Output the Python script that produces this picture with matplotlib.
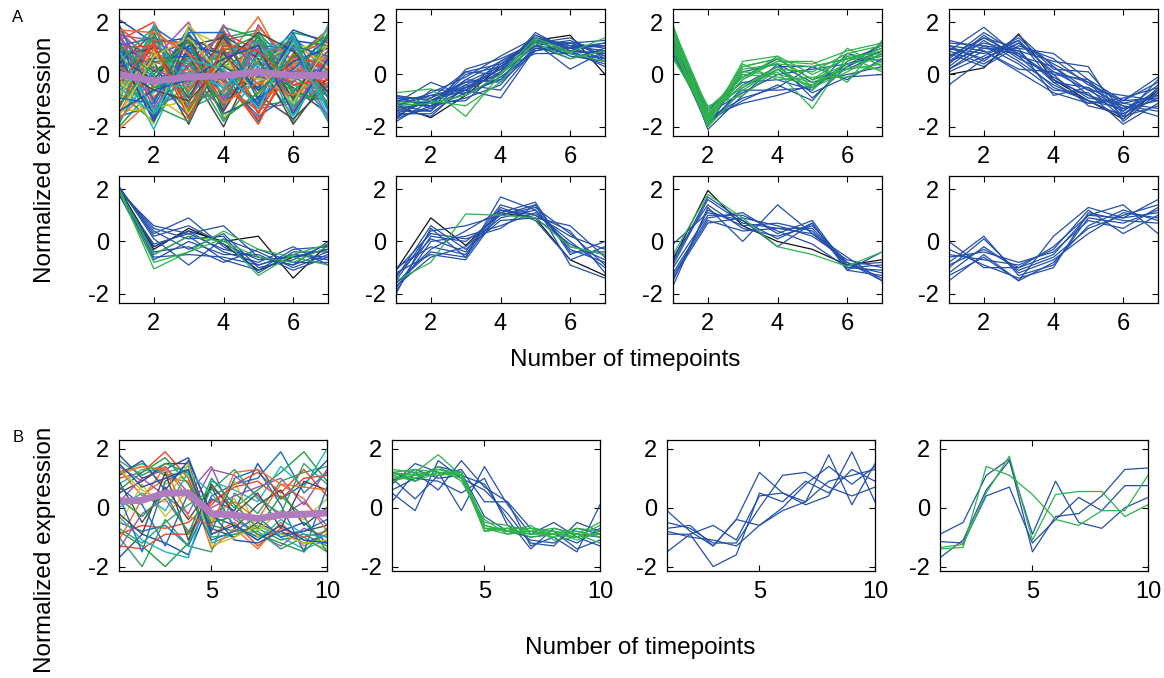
import matplotlib
matplotlib.use('Agg')
import matplotlib.pyplot as plt

plt.rcParams['font.family'] = ['Liberation Sans', 'DejaVu Sans']
plt.rcParams['axes.unicode_minus'] = False

# colours
BLUE = '#2350aa'
GREEN = '#2db34a'
BLACK = '#111111'
MEAN = '#b07cc0'
palette = ['#2350aa', '#1f9e48', '#ef4422', '#1bb5c2', '#9a55b5', '#c9c12a', '#4a4a4a',
           '#f26b2a', '#1a6fc0', '#33a06b']

x7 = [1, 2, 3, 4, 5, 6, 7]
x10 = [1, 2, 3, 4, 5, 6, 7, 8, 9, 10]

# ---- A, panel 1: all genes ----
a1_lines = [
    [2.1, 1.2, 1.4, 0.8, 1.1, 0.6, 1.7],
    [-2.0, -0.5, 0.3, 1.2, 0.9, -0.4, -0.8],
    [1.3, 2.0, -0.5, 0.2, -1.1, 0.7, 0.4],
    [0.5, -2.1, 0.8, -0.3, 1.5, -0.6, 0.2],
    [-1.2, 0.6, 2.0, -1.0, 0.3, 1.1, -0.5],
    [0.9, -0.8, -1.7, 1.6, -0.2, 0.4, 1.0],
    [-0.4, 1.1, 0.2, -2.0, 0.8, -1.3, 0.6],
    [1.7, 0.3, -0.6, 0.5, 2.2, -0.2, -1.1],
    [-1.6, -1.2, 1.0, 0.9, -1.5, 1.4, 0.3],
    [0.2, 0.9, -1.3, -0.7, 1.2, -1.8, 0.9],
    [1.1, -0.3, 0.6, 1.5, -0.9, 0.1, -1.6],
    [-0.9, 1.5, -0.2, 0.4, -0.6, 1.6, 1.3],
    [0.7, -1.5, 1.4, -1.2, 0.5, -0.9, -0.2],
    [-1.8, 0.2, -0.9, 0.7, 1.3, 0.9, -1.3],
    [1.5, 1.3, 0.5, -0.5, -1.3, -1.1, 0.8],
    [-0.2, -1.0, 1.7, 1.1, 0.0, -1.5, 1.5],
    [0.3, 0.5, -1.9, 0.9, -0.4, 1.2, -0.7],
    [1.9, -0.6, 0.1, -1.4, 0.6, 0.3, 1.1],
    [-1.3, 1.8, 0.9, 0.1, -1.8, 0.5, 0.0],
    [0.0, -1.4, -0.4, 1.4, 1.7, -0.8, -1.0],
    [1.2, 0.8, 1.2, -0.9, -0.1, 1.5, -1.4],
    [-0.7, -1.8, 0.4, 0.3, 1.0, -0.3, 1.8],
    [0.8, 1.0, -1.1, 1.7, -1.0, 0.0, 0.5],
    [-1.5, -0.2, 1.6, -0.6, 0.4, 1.0, -0.9],
    [1.6, -1.1, -0.8, 0.6, 1.4, -1.4, 0.7],
    [-1.0, 0.4, 0.7, -1.6, -0.7, 0.8, 1.4],
    [0.4, 1.6, -1.5, 0.0, 0.2, -0.5, -1.5],
    [-2.1, -0.9, 0.0, 1.0, 0.7, 1.3, 0.1],
    [1.0, -0.4, 1.8, -0.2, -1.6, -0.7, 0.9],
    [-0.5, 1.4, -0.7, 1.3, 1.6, 0.2, -0.6],
    [0.6, -1.7, 0.9, -1.1, 0.1, 1.7, 1.2],
    [-1.1, 0.0, -1.4, 0.8, -1.2, -1.0, 1.6],
    [1.8, 0.7, 0.3, 1.6, 0.9, -1.2, -0.3],
    [-0.3, -0.7, 1.3, -0.8, -0.3, 0.6, -1.8],
    [0.1, 1.2, -0.1, -1.3, 1.9, 0.1, 0.4],
    [-1.4, -1.3, -1.0, 0.2, 0.5, 1.1, 1.0],
    [1.4, 0.1, 1.1, 1.4, -0.8, -1.7, -0.4],
    [-0.8, 1.7, 0.6, -0.4, -1.4, 0.4, 0.6],
    [0.9, -0.1, -1.6, 0.6, 1.1, 1.0, -1.2],
    [-1.9, 0.8, 0.4, -1.8, 0.0, -0.6, 0.2],
    [1.3, -1.6, 1.5, 0.3, -0.5, 1.3, 1.1],
    [-0.6, 0.3, -0.3, 1.8, 1.4, -0.1, -0.8],
    [0.4, -0.9, 0.8, -0.1, -1.9, 0.7, 1.3],
    [-1.0, 1.9, -1.2, 0.5, 0.3, -1.6, 0.5],
    [1.6, 0.5, 0.0, -0.9, 1.0, 0.9, -1.7],
    [-0.2, -1.9, 1.9, 0.4, -0.2, -0.2, 0.8],
    [0.7, 1.0, -0.9, 1.5, 0.6, -1.9, -0.1],
    [-1.7, -0.4, 0.2, -0.7, 1.8, 0.5, 1.7],
    [1.1, 1.4, 1.0, 0.0, -1.1, 1.6, -0.9],
    [-0.4, -1.2, -1.8, 1.2, 0.4, -0.4, 0.0],
    [0.3, 0.6, 0.7, -1.5, -0.9, 1.4, -1.3],
    [1.2, -0.5, -0.2, 0.9, 1.5, -1.0, 1.5],
    [-1.3, 1.3, 1.2, -0.3, -1.7, 0.3, -0.5],
    [0.0, -0.3, -0.5, 1.1, 0.8, -1.3, 1.9],
    [1.5, -1.3, 0.4, -1.0, 1.2, 0.0, -0.6],
    [-0.8, 0.9, -1.5, 0.7, -0.8, 1.2, 0.3],
    [0.6, -0.2, 1.5, -1.4, 0.9, -0.9, 1.2],
    [-1.5, 1.0, -0.6, 1.3, -0.4, 0.6, -1.1],
    [1.9, -1.0, 0.9, 0.1, -1.2, 1.1, 0.7],
    [-0.1, 1.5, -1.1, -0.6, 1.3, -1.2, -0.4],
    [0.8, -1.8, 1.1, 0.8, -0.6, 0.5, 1.0],
    [-1.2, 0.5, 0.5, -1.2, 1.5, -0.7, -1.0],
    [1.0, 1.1, -1.3, 1.0, -1.5, 0.8, 0.2],
    [-0.5, -1.5, 0.1, -0.5, 0.7, 1.5, -1.4],
    [1.4, 0.2, -0.4, 1.9, -0.1, -0.3, 0.9],
    [-1.6, 0.7, 1.4, -0.1, 0.2, -1.1, 1.2],
    [0.2, -0.6, -1.0, 0.4, 1.6, 0.9, -0.7],
    [1.7, 1.6, 0.8, -1.1, -0.3, -0.8, 0.1],
    [-0.9, -1.1, 1.6, 1.6, -1.0, 0.2, 1.4],
    [0.5, 1.8, -0.8, -0.8, 0.5, 1.4, -1.2],
    [-1.4, -0.6, -0.2, 0.6, 1.1, -1.5, 0.6],
    [1.1, 0.0, 1.3, -1.7, -0.7, 0.7, 1.5],
    [-0.3, 1.2, -1.7, 1.1, 0.9, -0.4, -0.2],
    [0.9, -1.4, 0.6, 0.2, -1.3, 1.3, -1.6],
]
a1_mean = [0.0, -0.25, -0.1, -0.05, 0.1, -0.05, -0.03]

# ---- A, panel 2 ----
a2_blue = [
    [-1.7, -1.2, -0.6, 0.1, 1.3, 1.0, 0.6],
    [-1.5, -1.0, -0.3, 0.3, 1.4, 1.1, 0.9],
    [-1.2, -0.8, -0.5, 0.0, 1.1, 0.9, 0.8],
    [-1.0, -1.1, -0.2, 0.5, 1.2, 1.2, 1.0],
    [-0.8, -1.3, -0.7, -0.2, 1.0, 0.8, 0.6],
    [-1.3, -1.6, -0.4, 0.2, 1.5, 1.0, 1.2],
    [-1.6, -0.9, 0.1, 0.4, 1.3, 0.7, 0.5],
    [-1.1, -0.3, -0.8, -0.1, 0.9, 1.1, 1.1],
    [-0.9, -1.2, -0.9, -0.4, 1.1, 1.3, 0.7],
    [-1.4, -1.4, 0.2, 0.6, 1.2, 0.2, 0.9],
    [-1.8, -1.0, -0.6, -0.9, 1.0, 0.9, 0.3],
    [-1.2, -0.7, -0.1, 0.7, 1.4, 1.0, 1.1],
    [-1.5, -1.5, -0.5, 0.2, 0.8, 0.8, 0.4],
    [-0.9, -0.9, -0.3, -0.2, 1.3, 1.2, 1.3],
    [-1.3, -1.1, -1.0, 0.1, 1.6, 0.9, 0.8],
    [-1.6, -1.3, 0.0, 0.3, 1.1, 0.6, 1.0],
    [-1.0, -0.8, -0.7, 0.4, 1.2, 1.4, 0.6],
    [-1.4, -1.0, -0.4, -0.6, 1.0, 1.0, 1.2],
    [-1.1, -1.2, 0.1, 0.0, 1.4, 1.1, 0.5],
    [-1.7, -0.6, -0.6, 0.5, 1.3, 0.8, 0.9],
    [-1.2, -1.4, -0.2, -0.3, 0.9, 1.2, 0.7],
    [-0.8, -1.0, -0.5, 0.2, 1.5, 1.0, 1.1],
]
a2_black = [[-1.2, -1.65, -0.8, 0.3, 1.3, 1.5, 0.0]]
a2_green = [
    [-0.7, -0.55, -1.6, 0.0, 1.4, 0.85, 1.4],
    [-1.2, -1.1, -0.8, 0.0, 1.2, 0.6, 0.9],
    [-1.1, -1.0, -1.2, -0.3, 1.3, 0.8, 0.5],
]

# ---- A, panel 3 ----
a3_blue = [
    [1.5, -2.1, -0.8, 0.4, -0.9, 0.3, 1.2],
    [1.2, -1.6, -1.1, -0.8, -0.4, 0.4, 0.9],
    [0.9, -1.9, -0.5, 0.2, -0.7, -0.1, 0.0],
    [1.7, -1.4, -0.1, 0.6, -0.2, 0.2, 0.8],
    [0.7, -1.7, -0.9, -0.5, 0.3, 0.6, 1.0],
    [1.3, -1.3, -0.3, -0.2, -0.6, 0.8, 0.5],
    [1.0, -2.0, 0.1, 0.4, -0.3, 0.0, 0.3],
    [1.6, -1.5, -0.7, 0.0, 0.2, 0.4, 0.7],
    [0.8, -1.8, -1.0, -0.4, -1.0, 0.5, 1.1],
    [1.4, -1.6, -0.4, 0.3, 0.3, -0.2, 0.6],
    [1.1, -1.9, -0.6, -0.6, -0.5, 0.3, 0.9],
]
a3_green = [
    [1.8, -1.9, 0.5, 0.7, -0.5, 1.0, 0.3],
    [1.6, -1.7, -0.2, 0.5, 0.5, -0.3, 1.3],
    [0.6, -1.5, -0.4, 0.1, -1.3, 0.7, 0.8],
    [1.9, -2.0, 0.3, 0.6, -0.2, 0.4, 0.6],
    [1.2, -1.2, -0.8, 0.2, 0.1, 0.8, 1.1],
    [0.9, -1.6, 0.0, -0.1, -0.4, 0.3, 0.2],
    [1.5, -1.8, 0.2, 0.4, 0.3, 0.6, 0.9],
    [1.7, -1.4, -0.5, 0.3, -0.6, 0.5, 1.0],
    [1.0, -1.9, 0.4, -0.2, -0.1, -0.1, 0.5],
    [1.4, -1.5, -0.2, 0.7, 0.0, 0.6, 0.7],
    [0.7, -1.7, 0.1, 0.0, -0.3, 0.2, 0.4],
    [1.8, -1.3, -0.1, 0.5, 0.4, 0.9, 1.2],
    [1.3, -2.0, -0.6, 0.2, -0.5, 0.1, 0.8],
    [1.1, -1.6, 0.3, 0.6, -0.2, 0.7, 0.1],
]

# ---- A, panel 4 ----
a4_blue = [
    [1.3, 1.0, 0.8, -0.2, -0.8, -1.4, -0.4],
    [-0.4, 0.6, 1.2, 0.1, -0.3, -1.1, -0.8],
    [0.9, 1.8, 0.7, -0.5, -1.0, -1.6, -1.2],
    [0.5, 1.4, 1.0, 0.8, -0.2, -1.0, -0.1],
    [1.1, 0.5, 1.5, 0.3, -0.6, -1.3, -1.0],
    [0.2, 0.9, 0.1, -0.7, -1.1, -0.9, -0.5],
    [0.7, 1.2, 0.9, 0.5, 0.3, -1.8, -0.7],
    [1.0, 0.8, 1.3, -0.3, -0.5, -1.2, -1.6],
    [0.4, 1.5, 0.6, 0.0, -1.2, -1.5, -0.9],
    [0.8, 0.3, 1.1, 0.6, -0.4, -1.0, -0.3],
    [1.2, 1.1, 0.4, -0.6, -0.7, -1.9, -1.1],
    [0.1, 0.7, 1.4, 0.2, 0.1, -1.4, -0.6],
    [0.6, 1.6, 0.8, -0.1, -0.9, -1.1, -1.3],
    [0.9, 0.4, 1.2, 0.4, -0.3, -1.6, -0.2],
    [0.3, 1.3, 0.5, -0.4, -1.0, -1.3, -0.8],
    [1.1, 0.9, 0.2, 0.1, -0.6, -0.8, -1.0],
    [0.5, 1.0, 1.0, -0.8, -0.5, -1.7, -0.5],
    [0.7, 1.4, 0.7, 0.3, -0.8, -1.2, -1.4],
    [1.0, 0.6, 1.3, 0.0, -0.2, -1.5, -0.7],
    [0.2, 1.1, 0.9, -0.3, -1.1, -1.0, -0.9],
]
a4_black = [[0.0, 0.25, 1.55, -0.2, -1.0, -1.7, -0.6]]

# ---- A, panel 5 ----
a5_blue = [
    [1.9, 0.6, 0.3, 0.6, -0.6, -0.9, -0.4],
    [2.0, 0.3, 0.9, -0.2, -0.9, -0.5, -0.7],
    [1.8, -0.5, 0.2, -0.7, -1.1, -0.3, -0.2],
    [2.1, 0.1, -0.9, 0.1, -0.4, -1.0, -0.5],
    [1.9, -0.2, 0.4, -0.4, -0.8, -0.2, -0.9],
    [2.0, 0.4, -0.3, 0.3, -1.0, -0.7, -0.1],
    [1.8, -0.7, 0.0, -0.5, -0.5, -1.1, -0.6],
    [2.1, 0.2, 0.6, -0.1, -0.7, -0.6, -0.3],
    [1.9, -0.4, -0.2, -0.8, -0.3, -0.8, -0.8],
    [2.0, 0.5, 0.1, 0.2, -1.2, -0.4, -0.4],
    [1.8, -0.1, 0.3, -0.3, -0.6, -0.9, 0.0],
    [2.0, -0.6, -0.5, -0.6, -0.9, -0.5, -0.6],
]
a5_black = [
    [2.0, -0.3, 0.5, -0.1, -1.1, -0.6, -0.3],
    [2.0, -0.2, 0.4, 0.0, 0.2, -1.4, -0.1],
]
a5_green = [
    [2.0, -1.05, -0.4, 0.1, -1.3, -0.5, -0.1],
    [1.9, -0.8, -0.4, 0.4, -0.3, -0.6, -0.9],
    [2.0, -0.5, 0.2, 0.0, -0.6, -0.8, -0.2],
]

# ---- A, panel 6 ----
a6_blue = [
    [-2.0, 0.5, -0.6, 1.7, 1.2, -0.3, -0.8],
    [-1.8, 0.2, 0.0, 1.0, 1.4, -0.9, -1.4],
    [-1.6, -0.3, 0.4, 1.2, 1.0, 0.2, -0.3],
    [-1.4, 0.6, -0.3, 0.8, 0.9, 0.6, -0.6],
    [-1.2, -0.5, -0.7, 1.1, 1.5, -0.5, 0.0],
    [-1.9, 0.0, 0.2, 0.6, 1.1, 0.0, -1.0],
    [-1.0, -0.2, -0.5, 1.3, 0.8, -0.7, -0.2],
    [-1.5, 0.4, 0.6, 1.0, 1.3, 0.3, -0.9],
    [-1.7, -0.6, -0.2, 0.9, 1.2, -0.2, -0.5],
    [-1.3, 0.1, -0.4, 1.4, 1.0, 0.4, -1.2],
    [-1.1, 0.3, 0.1, 0.5, 1.4, -0.4, -0.4],
    [-1.6, -0.4, -0.6, 1.2, 0.9, -0.1, -0.7],
]
a6_black = [[-1.1, 0.9, -0.15, 1.1, 0.9, -0.7, -1.3]]
a6_green = [[-1.5, -0.8, 1.05, 1.0, 0.9, -0.2, -0.5]]

# ---- A, panel 7 ----
a7_blue = [
    [-1.7, 1.3, 0.0, 1.4, 0.3, -0.6, -1.5],
    [-1.2, 0.9, 1.1, 0.3, 0.8, -1.0, -1.1],
    [-0.9, 1.6, 0.7, 0.5, 0.5, -0.9, -0.8],
    [-0.1, 1.1, 0.8, -0.2, 0.7, -1.1, -1.3],
    [-1.4, 0.7, 0.9, 0.6, 0.2, -0.7, -1.0],
    [-0.6, 1.4, 0.5, 0.2, 0.6, -0.8, -1.4],
    [-1.0, 1.0, 1.0, 0.4, -0.1, -1.0, -0.9],
    [-1.5, 1.2, 0.6, 0.7, 0.4, -0.9, -1.2],
    [-0.8, 1.7, 0.8, 0.1, 0.7, -1.1, -0.4],
    [-1.3, 0.8, 0.4, 0.5, 0.3, -0.8, -1.5],
]
a7_black = [[-0.7, 1.95, 0.6, 0.0, -0.3, -0.9, -0.7]]
a7_green = [[-0.5, 1.8, 0.9, -0.2, -0.5, -0.95, -0.4]]

# ---- A, panel 8 ----
a8_blue = [
    [-1.5, -0.5, -1.5, 0.2, 1.3, 0.9, 1.6],
    [0.0, -1.0, -1.0, -0.5, 1.0, 1.4, 0.3],
    [-0.8, 0.2, -1.3, -0.9, 0.9, 0.7, 1.2],
    [-0.5, -0.7, -0.9, -0.3, 1.2, 0.3, 1.0],
    [-1.2, -0.2, -1.1, -0.6, 0.5, 1.0, 1.4],
    [-0.3, -0.9, -1.4, -1.0, 1.1, 0.8, 0.7],
    [-1.0, 0.1, -1.2, -0.7, 0.3, 1.1, 0.9],
    [-0.6, -0.4, -0.8, -0.4, 0.8, 0.5, 1.3],
    [-1.3, -0.6, -1.5, -0.8, 0.6, 1.2, 0.8],
    [-0.9, -0.3, -1.0, -0.2, 1.0, 0.9, 1.1],
]

# ---- B, panel 1: all genes ----
b1_lines = [
    [1.8, 1.0, 1.3, 1.7, -0.3, -0.6, -1.0, -0.8, -1.2, -0.9],
    [1.2, 1.5, 1.1, 1.2, -0.6, -0.8, -0.7, -1.1, -0.9, -1.3],
    [1.0, 1.2, 1.9, 1.0, -0.9, -0.5, -1.3, -0.7, -1.0, -0.8],
    [0.8, 1.3, 1.2, 1.4, -1.2, -0.9, -0.6, -1.0, -1.4, -1.1],
    [1.4, 0.9, 1.4, 0.5, 1.4, -0.4, -0.9, -1.3, -0.7, -1.0],
    [1.1, 1.4, 0.8, 1.1, -0.4, 0.3, -1.0, -0.6, -1.1, -1.4],
    [0.5, 0.9, 1.5, 1.5, -0.7, -1.0, -0.5, -0.9, -0.8, -0.6],
    [1.3, 0.4, 1.0, 0.9, -1.4, -0.7, -1.4, -0.5, -1.3, -0.9],
    [-0.5, -0.8, -0.6, -1.3, 0.4, 0.8, 1.0, 1.9, 0.5, 1.2],
    [-1.0, -2.0, -0.4, -1.3, -1.5, 0.5, -0.2, 0.9, 1.2, 1.4],
    [-1.7, -0.9, -1.2, -1.6, 0.3, -0.1, 1.5, 0.3, 0.8, 1.6],
    [-0.8, -1.3, -2.0, -1.2, 0.7, 0.0, 0.6, 1.2, 1.9, 0.9],
    [-1.3, -1.4, -0.9, -0.9, 0.1, 0.8, 1.2, 0.5, 1.3, 0.4],
    [-0.3, -1.1, -1.5, -1.7, 0.9, 0.6, 0.2, 1.4, 0.7, 2.0],
    [0.2, 1.0, 0.4, -0.2, 1.3, 1.1, 0.4, -0.3, 0.2, -0.6],
    [-0.6, 0.8, -0.3, 0.6, -0.5, 0.9, -0.8, -0.1, -0.4, 0.3],
    [0.9, -0.5, 0.7, -0.4, 0.7, -0.7, 0.1, 0.6, -0.6, 0.0],
    [-1.1, 0.3, 1.4, 0.3, -0.2, 0.2, -0.4, 0.8, 0.3, -0.8],
    [0.4, -1.5, 0.9, 1.3, -0.8, 1.0, 1.3, 0.1, -1.5, 0.7],
    [1.6, 1.1, 1.5, 1.2, -1.0, -0.9, -0.8, -1.4, -1.0, -1.5],
    [1.1, 1.6, 0.6, 1.6, -0.2, -1.1, -1.2, -0.8, -0.5, -1.2],
    [0.6, 1.2, 1.7, 0.8, -0.5, -0.3, -0.9, -1.2, -1.5, -0.7],
    [-0.9, -0.6, -0.7, -0.5, 0.2, 0.7, 0.9, 0.3, 1.0, 1.1],
    [0.0, 0.5, -0.1, 1.2, 0.5, -0.6, -1.1, -0.4, -0.9, -1.0],
    [-1.4, -0.2, 0.3, -0.8, 0.0, 0.4, 0.7, 1.0, 0.1, 1.3],
    [1.3, 0.6, 0.2, 1.5, -1.3, -1.0, -0.6, -0.9, -1.2, -1.1],
    [-0.2, -0.9, 1.2, -1.1, 0.8, -0.2, 0.5, -0.7, 0.9, 0.6],
    [1.2, 1.4, 1.3, -0.3, -0.6, 1.2, 1.3, 0.8, 0.7, 0.6],
    [0.7, 0.1, -1.3, 0.5, -1.1, -0.8, -0.3, -1.0, -0.8, -0.4],
    [-0.7, -1.2, -0.5, 0.1, 0.6, 1.3, 0.3, -0.2, 1.5, 0.8],
    [1.5, 0.7, 1.0, 1.3, -0.9, -0.6, -1.1, -0.6, -1.1, -1.2],
    [0.3, -0.3, 0.5, -0.9, 1.0, 0.1, -0.7, 0.4, -0.3, -1.5],
]
b1_mean = [0.22, 0.25, 0.5, 0.5, -0.2, -0.25, -0.37, -0.25, -0.22, -0.18]

# ---- B, panel 2 ----
b2_blue = [
    [0.2, 1.2, 0.6, 1.6, 0.7, 0.2, -1.3, -1.0, -1.5, 0.1],
    [0.8, 1.5, 1.2, -0.1, 1.4, 0.1, -0.9, -0.5, -1.0, -1.3],
    [0.5, -0.1, 1.6, 1.0, 0.6, -0.2, -1.2, -1.3, -0.5, -0.8],
    [1.0, 0.3, 1.1, 1.3, 0.2, 0.2, -0.7, -0.8, -1.4, -1.1],
    [0.6, 1.0, 0.9, 0.5, 1.0, -0.6, -1.1, -1.2, -0.7, -0.9],
    [1.2, 0.9, 1.4, 1.2, -0.3, -0.8, -1.0, -0.9, -1.2, -0.7],
    [0.9, 1.3, 1.0, 1.1, 0.8, -0.4, -1.4, -0.7, -0.9, -1.0],
]
b2_green = [
    [1.1, 1.2, 1.8, 1.1, -0.8, -0.7, -0.7, -0.9, -1.0, -0.6],
    [1.2, 1.0, 1.2, 1.2, -0.6, -0.8, -0.8, -0.9, -0.8, -1.0],
    [1.0, 1.1, 1.3, 1.1, -0.7, -0.7, -0.9, -0.8, -1.1, -0.8],
    [1.3, 1.2, 1.1, 1.2, -0.5, -0.6, -0.8, -1.0, -0.9, -0.9],
    [1.1, 0.9, 1.2, 1.0, -0.7, -0.9, -0.7, -0.8, -0.9, -1.2],
    [0.9, 1.1, 1.3, 1.2, -0.8, -0.7, -1.0, -0.9, -0.7, -0.8],
    [1.2, 1.3, 1.2, 1.1, -0.6, -0.8, -0.6, -1.1, -1.0, -0.9],
    [1.0, 1.0, 1.4, 0.9, -0.4, -0.9, -0.8, -0.7, -0.9, -0.5],
    [1.2, 1.1, 1.1, 1.2, -0.7, -0.8, -0.9, -0.9, -0.8, -1.0],
]

# ---- B, panel 3 ----
b3_blue = [
    [-0.1, -0.8, -1.3, -0.4, 1.2, 0.5, 0.2, 1.8, 0.1, 1.5],
    [-1.5, -0.9, -0.6, -1.1, 0.4, 0.5, 0.1, 0.4, 1.9, 0.2],
    [-0.5, -0.7, -1.2, -1.2, 0.0, 1.1, 1.2, 0.7, 0.4, 0.7],
    [-0.7, -0.6, -1.3, -0.4, -0.6, 0.0, 0.8, 1.4, 0.8, 1.4],
    [-0.9, -0.9, -2.0, -1.6, 0.5, 0.2, 0.9, 0.5, 1.3, 0.9],
    [-0.8, -1.0, -1.1, -1.3, -0.6, -0.1, 0.2, 0.9, 1.1, 1.3],
]

# ---- B, panel 4 ----
b4_blue = [
    [-0.9, -0.5, 1.1, 1.65, -1.5, -0.3, -0.2, 0.4, 1.3, 1.35],
    [-1.15, -1.2, 0.4, 0.7, -1.2, -0.4, 0.35, -0.1, 0.75, 0.75],
    [-1.7, -1.1, 0.6, 1.6, -0.9, 0.9, -0.5, -0.7, 0.0, 0.35],
]
b4_green = [
    [-1.4, -1.35, 1.4, 1.1, 0.45, -0.4, -0.6, -0.1, -0.1, 1.1],
    [-1.35, -1.25, 0.5, 1.75, -1.1, 0.45, 0.55, 0.55, -0.3, 0.1],
]

W, H = 1164, 678
fig = plt.figure(figsize=(W / 100, H / 100), dpi=100)


def make_ax(left, top, width, height, xmax, ylim, xticks):
    ax = fig.add_axes([left / W, 1 - (top + height) / H, width / W, height / H])
    ax.set_xlim(1, xmax)
    ax.set_ylim(*ylim)
    ax.set_xticks(xticks)
    ax.set_yticks([-2, 0, 2])
    ax.tick_params(direction='in', top=True, right=True, length=4, width=0.8,
                   labelsize=17, pad=7)
    for s in ax.spines.values():
        s.set_linewidth(0.9)
    return ax


def draw(ax, xs, groups, lw=0.9):
    for lines, color in groups:
        for ys in lines:
            ax.plot(xs, ys, color=color, lw=lw)


ylim_a = (-2.35, 2.5)
ylim_b = (-2.15, 2.3)
rowA = [(119, 9), (396, 9), (673, 9), (949, 9),
        (119, 176), (396, 176), (673, 176), (949, 176)]

ax = make_ax(*rowA[0], 209, 127, 7, ylim_a, [2, 4, 6])
for i, ys in enumerate(a1_lines):
    ax.plot(x7, ys, color=palette[i % len(palette)], lw=1.1)
ax.plot(x7, a1_mean, color=MEAN, lw=5, solid_capstyle='butt')

ax = make_ax(*rowA[1], 209, 127, 7, ylim_a, [2, 4, 6])
draw(ax, x7, [(a2_black, BLACK), (a2_blue, BLUE), (a2_green, GREEN)])

ax = make_ax(*rowA[2], 209, 127, 7, ylim_a, [2, 4, 6])
draw(ax, x7, [(a3_blue, BLUE), (a3_green, GREEN)])

ax = make_ax(*rowA[3], 209, 127, 7, ylim_a, [2, 4, 6])
draw(ax, x7, [(a4_black, BLACK), (a4_blue, BLUE)])

ax = make_ax(*rowA[4], 209, 127, 7, ylim_a, [2, 4, 6])
draw(ax, x7, [(a5_black, BLACK), (a5_blue, BLUE), (a5_green, GREEN)])

ax = make_ax(*rowA[5], 209, 127, 7, ylim_a, [2, 4, 6])
draw(ax, x7, [(a6_black, BLACK), (a6_blue, BLUE), (a6_green, GREEN)])

ax = make_ax(*rowA[6], 209, 127, 7, ylim_a, [2, 4, 6])
draw(ax, x7, [(a7_black, BLACK), (a7_blue, BLUE), (a7_green, GREEN)])

ax = make_ax(*rowA[7], 209, 127, 7, ylim_a, [2, 4, 6])
draw(ax, x7, [(a8_blue, BLUE)])

rowB = [(119, 440), (392, 440), (667, 440), (940, 440)]
ax = make_ax(*rowB[0], 208, 131, 10, ylim_b, [5, 10])
for i, ys in enumerate(b1_lines):
    ax.plot(x10, ys, color=palette[i % len(palette)], lw=1.0)
ax.plot(x10, b1_mean, color=MEAN, lw=5, solid_capstyle='butt')

ax = make_ax(*rowB[1], 208, 131, 10, ylim_b, [5, 10])
draw(ax, x10, [(b2_blue, BLUE), (b2_green, GREEN)])

ax = make_ax(*rowB[2], 208, 131, 10, ylim_b, [5, 10])
draw(ax, x10, [(b3_blue, BLUE)])

ax = make_ax(*rowB[3], 208, 131, 10, ylim_b, [5, 10])
draw(ax, x10, [(b4_blue, BLUE), (b4_green, GREEN)])

# labels
fig.text(18 / W, 1 - 17 / H, 'A', fontsize=12, va='center', ha='center')
fig.text(18 / W, 1 - 438 / H, 'B', fontsize=12, va='center', ha='center')
fig.text(45 / W, 1 - 160 / H, 'Normalized expression', rotation=90, fontsize=17.5,
         va='center', ha='center')
fig.text(45 / W, 1 - 550 / H, 'Normalized expression', rotation=90, fontsize=17.5,
         va='center', ha='center')
fig.text(625 / W, 1 - 360 / H, 'Number of timepoints', fontsize=17.5, va='center', ha='center')
fig.text(640 / W, 1 - 648 / H, 'Number of timepoints', fontsize=17.5, va='center', ha='center')

fig.savefig('out.png', dpi=100)
